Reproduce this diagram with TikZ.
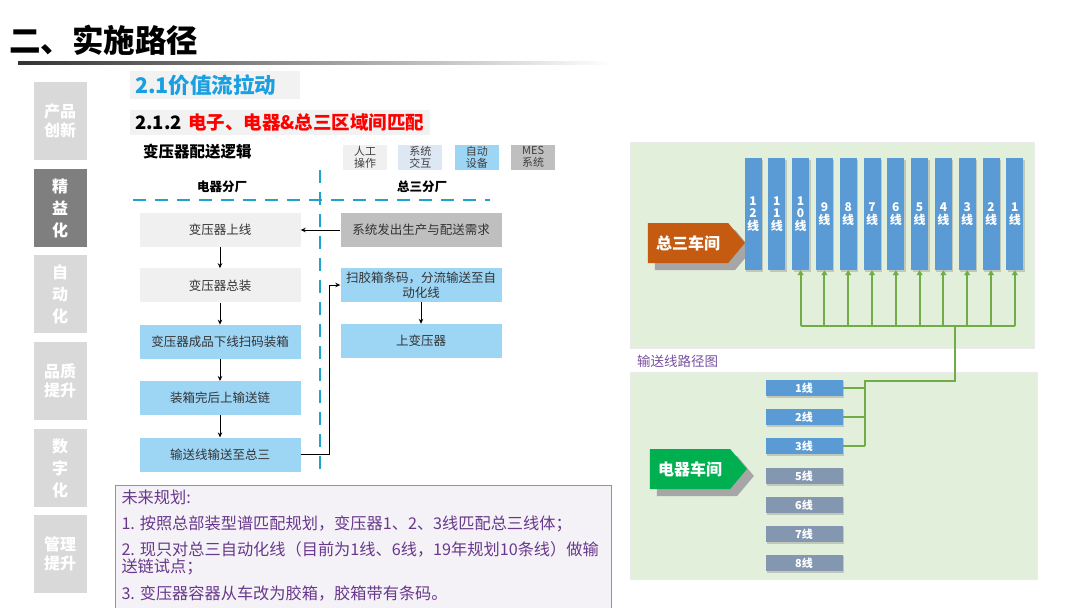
\documentclass[tikz,border=0pt]{standalone}
\usepackage{fontspec}
\setmainfont{Noto Sans CJK SC}
\usepackage{tikz}
\usetikzlibrary{arrows.meta,positioning,calc,shapes.symbols,shadows}
\usepackage{xcolor}
\definecolor{vsside}{HTML}{D9D9D9}
\definecolor{vsactive}{HTML}{7F7F7F}
\definecolor{vssky}{HTML}{1A9FE0}
\definecolor{vsdiv}{HTML}{1FA3CC}
\definecolor{vsmanual}{HTML}{F0F0F0}
\definecolor{vssys}{HTML}{DEE8F4}
\definecolor{vsauto}{HTML}{9DD5F5}
\definecolor{vsmes}{HTML}{BFBFBF}
\definecolor{vsplan}{RGB}{104,56,140}
\definecolor{vsplanbd}{RGB}{160,135,185}
\definecolor{vsplanbg}{RGB}{244,242,246}
\definecolor{vspanel}{HTML}{E2EFDA}
\definecolor{vsbar}{HTML}{5B9BD5}
\definecolor{vsidle}{HTML}{8497B0}
\definecolor{vsorange}{HTML}{C55A11}
\definecolor{vsgreen}{HTML}{00B050}
\definecolor{vsroute}{HTML}{70AD47}
\definecolor{vscap}{RGB}{120,80,160}
\newcommand{\vsfs}[2]{\fontsize{#1}{#2}\selectfont}
\tikzset{
  sidetab/.style={fill=#1, text=white, font=\bfseries\vsfs{16}{19}, minimum width=53pt, minimum height=78pt, inner sep=0pt, align=center},
  legbox/.style={fill=#1, minimum width=44pt, minimum height=25pt, inner sep=0pt, align=center, font=\vsfs{11}{12}, text=black!75},
  flowbox/.style={fill=#1, minimum width=161pt, minimum height=34pt, inner sep=2pt, align=center, font=\vsfs{12.5}{15}, text=black!80},
  flowarrow/.style={-{Stealth[length=5pt,width=4.5pt]}, line width=0.9pt},
  divline/.style={draw=vsdiv, line width=2.2pt, dash pattern=on 13pt off 9pt},
  panel/.style={fill=vspanel, draw=black!8, anchor=north west, inner sep=0pt},
  linebar/.style={fill=vsbar, minimum width=17pt, minimum height=112pt, inner sep=0pt, text=white, align=center, font=\bfseries\vsfs{12}{12.5},
    drop shadow={shadow xshift=1.5pt, shadow yshift=-1.5pt, opacity=0.35}},
  linetab/.style={fill=#1, minimum width=77pt, minimum height=16.5pt, inner sep=0pt, text=white, font=\bfseries\vsfs{11}{12},
    drop shadow={shadow xshift=1.5pt, shadow yshift=-1.5pt, opacity=0.35}},
  shoparrow/.style={signal, signal to=east, signal pointer angle=100, fill=#1, minimum width=97pt, minimum height=40pt, inner sep=0pt,
    text=white, font=\bfseries\vsfs{16}{18}, drop shadow={shadow xshift=7pt, shadow yshift=-7pt, fill=black!35, opacity=1}},
  routeline/.style={draw=vsroute, line width=2.6pt},
  routearrow/.style={draw=vsroute, line width=2pt, -{Triangle[length=5pt,width=6pt]}},
}

\begin{document}
\begin{tikzpicture}[x=1pt, y=-1pt]
  \useasboundingbox (0,0) rectangle (1080,608);

  % title and rule
  \node[anchor=west, font=\bfseries\vsfs{31.5}{34}, inner sep=0pt] (title) at (9,40) {二、实施路径};
  \shade[left color=black!80, right color=white] (18,61) rectangle (612,64);

  % side tabs
  \node[sidetab=vsside] (tab1) at (60,121) {产品\\创新};
  \node[sidetab=vsactive] (tab2) at (60,208) {精\\[3pt]益\\[3pt]化};
  \node[sidetab=vsside] (tab3) at (60,294) {自\\[3pt]动\\[3pt]化};
  \node[sidetab=vsside] (tab4) at (60,381) {品质\\提升};
  \node[sidetab=vsside] (tab5) at (60,468) {数\\[3pt]字\\[3pt]化};
  \node[sidetab=vsside] (tab6) at (60,554) {管理\\提升};

  % section heads
  \node[anchor=west, fill=black!5, text=vssky, font=\bfseries\vsfs{21.5}{24}, text width=160pt, inner xsep=5pt, minimum height=26pt] (sec) at (130,85) {2.1价值流拉动};
  \node[anchor=west, fill=black!5, font=\bfseries\vsfs{18.5}{20}, text width=290pt, inner xsep=5pt, minimum height=25pt] (subsec) at (130,122)
    {2.1.2 \textcolor{red}{电子、电器\&总三区域间匹配}};
  \node[anchor=west, font=\bfseries\vsfs{15.5}{17}, inner sep=0pt] (logic) at (143,152) {变压器配送逻辑};

  % legend
  \node[legbox=vsmanual] (legman) at (365,157) {人工\\操作};
  \node[legbox=vssys, right=11pt of legman] (legsys) {系统\\交互};
  \node[legbox=vsauto, right=12pt of legsys] (legauto) {自动\\设备};
  \node[legbox=vsmes, right=12pt of legauto] (legmes) {MES\\系统};

  % two plants
  \node[font=\bfseries\vsfs{12.5}{14}] (elehead) at (222,187) {电器分厂};
  \node[font=\bfseries\vsfs{12.5}{14}] (genhead) at (422,187) {总三分厂};
  \draw[divline] (133,200) -- (490,200);
  \coordinate (divtop) at (320,170);
  \coordinate (divbot) at (320,470);
  \draw[divline] (divtop) -- (divbot);

  % flow
  \node[flowbox=vsmanual] (mount) at (220,230) {变压器上线};
  \node[flowbox=vsmanual, below=21pt of mount] (assy) {变压器总装};
  \node[flowbox=vsauto, below=22pt of assy] (pack) {变压器成品下线扫码装箱};
  \node[flowbox=vsauto, below=22pt of pack] (chain) {装箱完后上输送链};
  \node[flowbox=vsauto, below=22pt of chain] (convey) {输送线输送至总三};
  \node[flowbox=vsmes] (demand) at (421,230) {系统发出生产与配送需求};
  \node[flowbox=vsauto] (scan) at (421,285) {扫胶箱条码，分流输送至自\\动化线};
  \node[flowbox=vsauto] (load) at (421,341) {上变压器};

  \draw[flowarrow] (mount) -- (assy);
  \draw[flowarrow] (assy) -- (pack);
  \draw[flowarrow] (pack) -- (chain);
  \draw[flowarrow] (chain) -- (convey);
  \draw[flowarrow] (demand) -- (mount);
  \draw[flowarrow] (scan) -- (load);
  \draw[flowarrow] (convey.east) -- ++(29,0) |- (scan.west);

  % future plan
  \node[anchor=north west, draw=vsplanbd, line width=1pt, fill=vsplanbg, text=vsplan, inner xsep=6pt, inner ysep=4pt] (plan) at (115,485)
    {\parbox[t][128pt][t]{484pt}{\vsfs{16.2}{17}未来规划:\\[9pt]
      1. 按照总部装型谱匹配规划，变压器1、2、3线匹配总三线体；\\[9pt]
      2. 现只对总三自动化线（目前为1线、6线，19年规划10条线）做输\\
      送链试点；\\[10pt]
      3. 变压器容器从车改为胶箱，胶箱带有条码。}};

  % route map
  \node[panel, minimum width=404pt, minimum height=206pt] (toppanel) at (630,142) {};
  \node[panel, minimum width=407pt, minimum height=207pt] (botpanel) at (630,372) {};
  \node[anchor=west, text=vscap, font=\vsfs{13.5}{15}, inner sep=0pt] (routecap) at (637,361) {输送线路径图};

  \node[shoparrow=vsorange] (genshop) at (688,243) {总三车间};
  \node[shoparrow=vsgreen] (eleshop) at (690,469) {电器车间};

  \foreach \k/\lab in {12/{1\\2\\线}, 11/{1\\1\\线}, 10/{1\\0\\线}, 9/{9\\线}, 8/{8\\线}, 7/{7\\线},
                       6/{6\\线}, 5/{5\\线}, 4/{4\\线}, 3/{3\\线}, 2/{2\\线}, 1/{1\\线}}
    \node[linebar] (bar\k) at ({753+(12-\k)*23.8},214) {\lab};

  \node[linetab=vsbar] (ln1) at (804,388) {1线};
  \node[linetab=vsbar] (ln2) at (804,417) {2线};
  \node[linetab=vsbar] (ln3) at (804,446) {3线};
  \node[linetab=vsidle] (ln5) at (804,476) {5线};
  \node[linetab=vsidle] (ln6) at (804,505) {6线};
  \node[linetab=vsidle] (ln7) at (804,534) {7线};
  \node[linetab=vsidle] (ln8) at (804,563) {8线};

  \coordinate (bus) at (955,326);
  \coordinate (bend) at (865,381);
  \draw[routeline] (bar10.south |- bus) -- (bar1.south |- bus);
  \foreach \k in {1,...,10}
    \draw[routearrow] (bar\k.south |- bus) -- (bar\k.south);
  \draw[routeline] (bus) |- (bend) -- (bend |- ln3.east);
  \foreach \k in {1,2,3}
    \draw[routeline] (ln\k.east) -- (ln\k.east -| bend);
\end{tikzpicture}
\end{document}
